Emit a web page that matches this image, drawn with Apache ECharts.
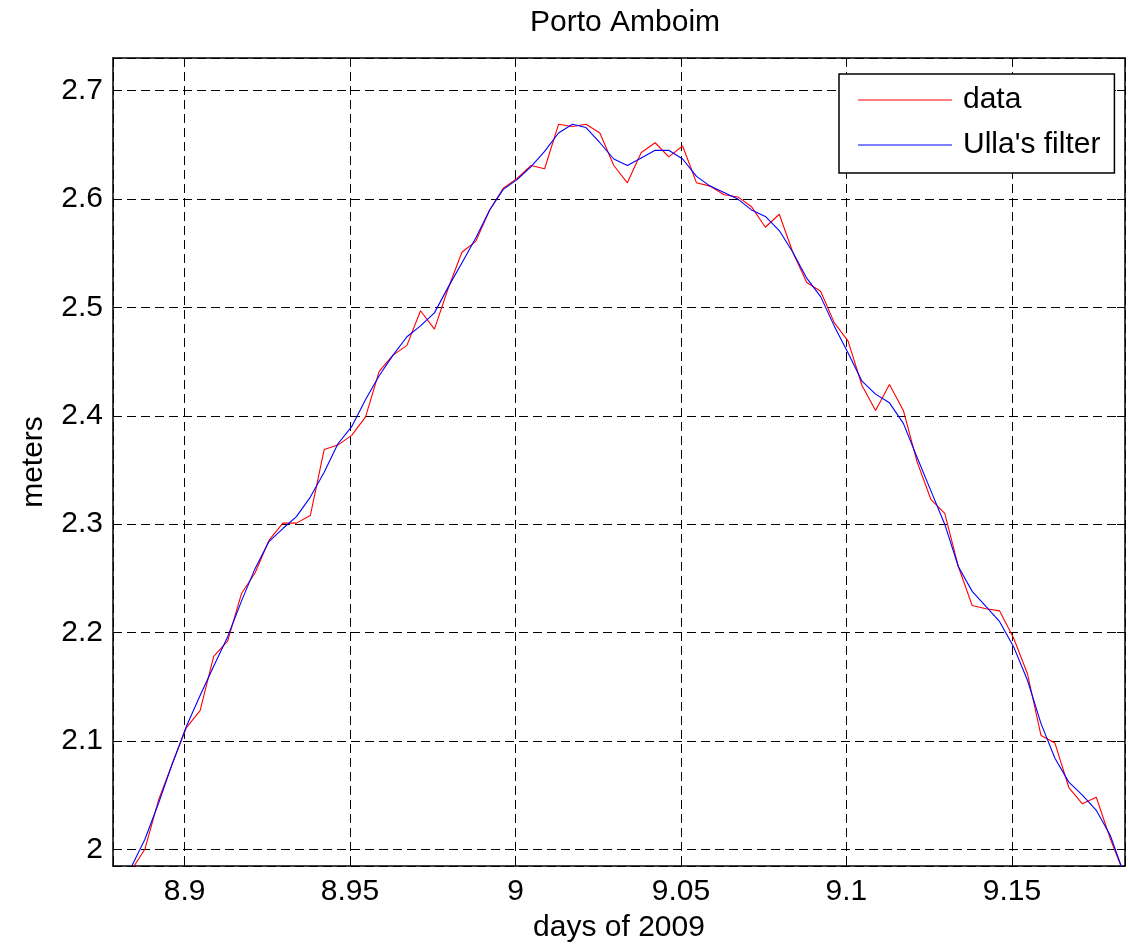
<!DOCTYPE html>
<html><head><meta charset="utf-8">
<script src="https://cdn.jsdelivr.net/npm/echarts@6/dist/echarts.min.js"></script>
<style>html,body{margin:0;padding:0;background:#fff;}#chart{width:1128px;height:949px;}</style>
</head><body><div id="chart"></div>
<script>
// time axis (days of 2009), one sample every 6 minutes
const days = [
  8.8838, 8.8880, 8.8922, 8.8963, 8.9005, 8.9047, 8.9088, 8.9130, 8.9172, 8.9213,
  8.9255, 8.9297, 8.9338, 8.9380, 8.9422, 8.9463, 8.9505, 8.9547, 8.9588, 8.9630,
  8.9672, 8.9713, 8.9755, 8.9797, 8.9838, 8.9880, 8.9922, 8.9963, 9.0005, 9.0047,
  9.0088, 9.0130, 9.0172, 9.0213, 9.0255, 9.0297, 9.0338, 9.0380, 9.0422, 9.0463,
  9.0505, 9.0547, 9.0588, 9.0630, 9.0672, 9.0713, 9.0755, 9.0797, 9.0838, 9.0880,
  9.0922, 9.0963, 9.1005, 9.1047, 9.1088, 9.1130, 9.1172, 9.1213, 9.1255, 9.1297,
  9.1338, 9.1380, 9.1422, 9.1463, 9.1505, 9.1547, 9.1588, 9.1630, 9.1672, 9.1713,
  9.1755, 9.1797, 9.1838
];
// "data" series (meters)
const dataValues = [
  1.980, 2.000, 2.046, 2.079, 2.112, 2.128, 2.178, 2.192, 2.236, 2.255,
  2.285, 2.301, 2.301, 2.308, 2.369, 2.373, 2.382, 2.399, 2.441, 2.456,
  2.465, 2.497, 2.480, 2.518, 2.551, 2.561, 2.590, 2.610, 2.619, 2.631,
  2.628, 2.669, 2.667, 2.669, 2.661, 2.631, 2.615, 2.643, 2.652, 2.639,
  2.649, 2.615, 2.612, 2.604, 2.602, 2.593, 2.574, 2.586, 2.551, 2.523,
  2.515, 2.486, 2.469, 2.428, 2.405, 2.429, 2.405, 2.358, 2.323, 2.310,
  2.261, 2.225, 2.222, 2.220, 2.195, 2.162, 2.105, 2.098, 2.057, 2.042,
  2.048, 2.010, 1.978
];
// "Ulla's filter" series (meters)
const filterValues = [
  1.983, 2.009, 2.043, 2.079, 2.113, 2.142, 2.169, 2.196, 2.229, 2.259,
  2.284, 2.296, 2.307, 2.325, 2.348, 2.374, 2.390, 2.415, 2.437, 2.456,
  2.473, 2.483, 2.495, 2.519, 2.541, 2.564, 2.590, 2.609, 2.618, 2.630,
  2.644, 2.661, 2.669, 2.666, 2.652, 2.637, 2.631, 2.638, 2.645, 2.645,
  2.637, 2.621, 2.612, 2.606, 2.600, 2.590, 2.584, 2.571, 2.551, 2.527,
  2.510, 2.483, 2.458, 2.432, 2.420, 2.412, 2.393, 2.362, 2.331, 2.300,
  2.261, 2.238, 2.224, 2.210, 2.187, 2.156, 2.116, 2.084, 2.062, 2.050,
  2.036, 2.013, 1.978
];
const seriesNames = ['data', "Ulla's filter"];
const xTicks = [8.9, 8.95, 9.0, 9.05, 9.1, 9.15];
const xTickLabels = ['8.9', '8.95', '9', '9.05', '9.1', '9.15'];
const yTicks = [2.0, 2.1, 2.2, 2.3, 2.4, 2.5, 2.6, 2.7];
const yTickLabels = ['2', '2.1', '2.2', '2.3', '2.4', '2.5', '2.6', '2.7'];
const xRange = [8.87838, 9.18417];
const yRange = [1.98459, 2.7302];

const FONT = '"Liberation Sans", Arial, Helvetica, sans-serif';
function labelFor(ticks, labels) {
  return function (v) {
    const i = ticks.findIndex(t => Math.abs(t - v) < 1e-6);
    return i >= 0 ? labels[i] : '';
  };
}
const gridDash = {show: true, lineStyle: {color: '#000', width: 1, type: [9, 5]}};
const borderLine = {show: true, onZero: false, lineStyle: {color: '#000', width: 1.5}};
const innerTick = {show: true, inside: true, length: 8, lineStyle: {color: '#000', width: 1}};

const chart = echarts.init(document.getElementById('chart'), null, {renderer: 'canvas'});
chart.setOption({
  animation: false,
  backgroundColor: '#fff',
  textStyle: {fontFamily: FONT},
  title: {
    text: 'Porto Amboim', left: 620, textAlign: 'center', top: 3,
    textStyle: {fontFamily: FONT, fontSize: 30, fontWeight: 'normal', color: '#000'}
  },
  grid: {left: 113, right: 1, top: 58, bottom: 83, containLabel: false},
  legend: {
    orient: 'vertical', left: 839, top: 74,
    data: seriesNames.map(n => ({name: n, icon: 'rect'})),
    itemWidth: 94, itemHeight: 1.2, itemGap: 15,
    padding: [11, 14, 13, 19],
    backgroundColor: '#fff', borderColor: '#000', borderWidth: 1.5, borderRadius: 0,
    textStyle: {fontFamily: FONT, fontSize: 30, color: '#000', lineHeight: 30, padding: [0, 0, 0, 6]}
  },
  xAxis: [{
    type: 'value', position: 'bottom', min: xRange[0], max: xRange[1],
    minInterval: 0.05, maxInterval: 0.05,
    name: 'days of 2009', nameLocation: 'middle', nameGap: 47,
    nameTextStyle: {fontFamily: FONT, fontSize: 30, color: '#000'},
    axisLine: borderLine, axisTick: innerTick, splitLine: gridDash,
    axisLabel: {margin: 11, fontFamily: FONT, fontSize: 30, color: '#000', formatter: labelFor(xTicks, xTickLabels)}
  }, {
    type: 'value', position: 'top', min: xRange[0], max: xRange[1],
    minInterval: 0.05, maxInterval: 0.05,
    axisLine: borderLine, axisTick: innerTick, splitLine: {show: false}, axisLabel: {show: false}
  }],
  yAxis: [{
    type: 'value', position: 'left', min: yRange[0], max: yRange[1],
    minInterval: 0.1, maxInterval: 0.1,
    name: 'meters', nameLocation: 'middle', nameGap: 64,
    nameTextStyle: {fontFamily: FONT, fontSize: 30, color: '#000'},
    axisLine: borderLine, axisTick: innerTick, splitLine: gridDash,
    axisLabel: {margin: 10, fontFamily: FONT, fontSize: 30, color: '#000', formatter: labelFor(yTicks, yTickLabels)}
  }, {
    type: 'value', position: 'right', min: yRange[0], max: yRange[1],
    minInterval: 0.1, maxInterval: 0.1,
    axisLine: borderLine, axisTick: innerTick, splitLine: {show: false}, axisLabel: {show: false}
  }],
  series: [{
    name: seriesNames[0], type: 'line', xAxisIndex: 0, yAxisIndex: 0,
    data: days.map((d, i) => [d, dataValues[i]]),
    symbol: 'none', clip: true, color: '#ff0000',
    lineStyle: {color: '#ff0000', width: 1.1}
  }, {
    name: seriesNames[1], type: 'line', xAxisIndex: 0, yAxisIndex: 0,
    data: days.map((d, i) => [d, filterValues[i]]),
    symbol: 'none', clip: true, color: '#0000ff',
    lineStyle: {color: '#0000ff', width: 1.1}
  }]
});
</script></body></html>
